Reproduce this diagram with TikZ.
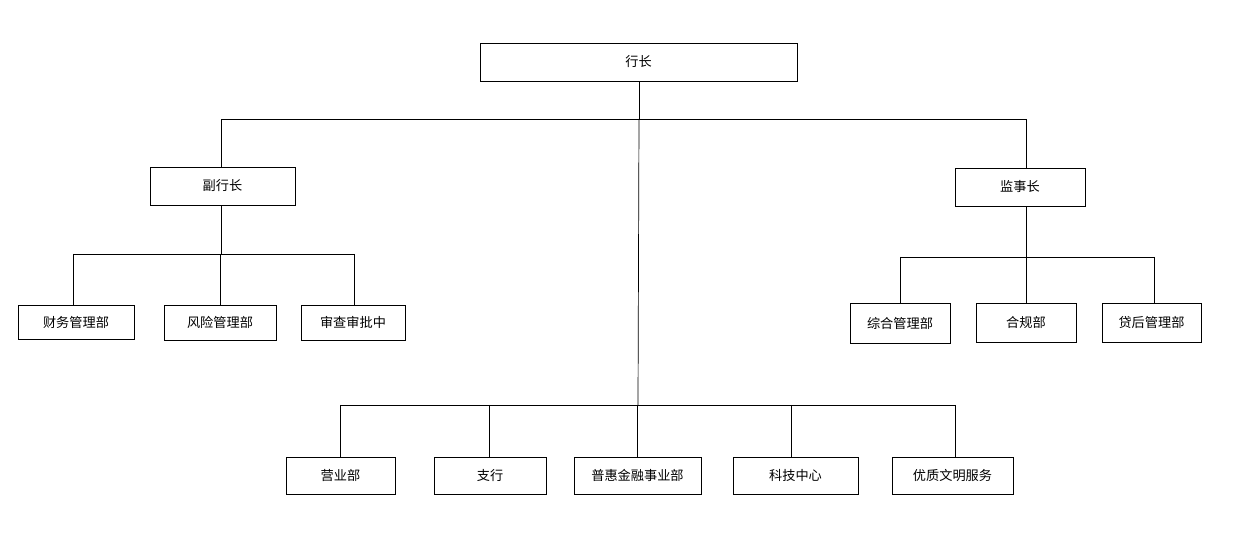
\documentclass[tikz,border=0pt]{standalone}
\usepackage{fontspec}
\setmainfont{Noto Sans CJK SC}
\usetikzlibrary{positioning}
\tikzset{box/.style={draw,line width=0.5pt,inner sep=0pt,font=\fontsize{7.5}{9}\selectfont},line width=0.6pt}
\begin{document}
\begin{tikzpicture}[x=0.02cm,y=-0.02cm]
\useasboundingbox (0,0) rectangle (1249,533);
% boxes
\node[box,minimum width=6.34cm,minimum height=0.76cm] (hz) at (638.5,62) {行长};
\node[box,minimum width=2.9cm,minimum height=0.76cm] (fh) at (222.5,186) {副行长};
\node[box,minimum width=2.6cm,minimum height=0.76cm] (js) at (1020,187) {监事长};
\node[box,minimum width=2.32cm,minimum height=0.68cm] (cw) at (76,322) {财务管理部};
\node[box,minimum width=2.24cm,minimum height=0.7cm] (fx) at (220,322.5) {风险管理部};
\node[box,minimum width=2.08cm,minimum height=0.7cm] (sc) at (353,322.5) {审查审批中};
\node[box,minimum width=2cm,minimum height=0.8cm] (zh) at (900,323) {综合管理部};
\node[box,minimum width=2cm,minimum height=0.78cm] (hg) at (1026,322.5) {合规部};
\node[box,minimum width=1.98cm,minimum height=0.78cm] (dh) at (1151.5,322.5) {贷后管理部};
\node[box,minimum width=2.18cm,minimum height=0.74cm] (yy) at (340.5,475.5) {营业部};
\node[box,minimum width=2.24cm,minimum height=0.74cm] (zx) at (490,475.5) {支行};
\node[box,minimum width=2.54cm,minimum height=0.74cm] (ph) at (637.5,475.5) {普惠金融事业部};
\node[box,minimum width=2.5cm,minimum height=0.74cm] (kj) at (795.5,475.5) {科技中心};
\node[box,minimum width=2.42cm,minimum height=0.74cm] (yz) at (952.5,475.5) {优质文明服务};
% junctions
\coordinate (t) at (639,119);
\coordinate (b) at (638,405);
\coordinate (l) at (221,254);
\coordinate (r) at (1026,257);
% connectors
\draw (hz.south-|t) -- (t);
\draw (222,119) -- (1026,119);
\draw (fh.north-|l) -- (l|-t);
\draw (js.north-|r) -- (r|-t);
\draw (t) -- (b);
\draw (340,405) -- (955,405);
\foreach \x in {340,489,637,791,955}
  \draw (\x,405) -- (\x,457);
\draw (fh.south-|l) -- (l);
\draw (73,254) -- (354,254);
\foreach \x in {73,220,354} \draw (\x,254) -- (\x,305);
\draw (js.south-|r) -- (r);
\draw (900,257) -- (1154,257);
\foreach \x in {900,1026,1154} \draw (\x,257) -- (\x,303);
\end{tikzpicture}
\end{document}
